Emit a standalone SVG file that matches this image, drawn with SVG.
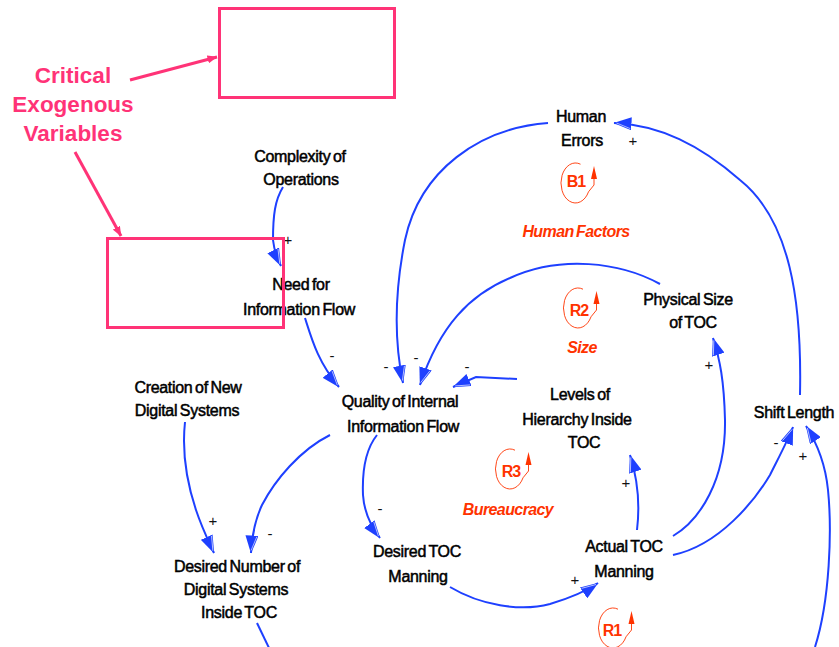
<svg xmlns="http://www.w3.org/2000/svg" width="839" height="647" viewBox="0 0 839 647">
  <style>
    .node { font-family: "Liberation Sans", Arial, sans-serif; font-size: 16px; fill: #000; stroke: #000; stroke-width: 0.5; text-anchor: middle; letter-spacing: -0.3px; word-spacing: -1.5px; }
    .pol { font-family: "Liberation Sans", Arial, sans-serif; font-size: 15px; fill: #111; text-anchor: middle; }
    .loopid { font-family: "Liberation Sans", Arial, sans-serif; font-size: 16px; font-weight: bold; fill: #ff3300; text-anchor: middle; letter-spacing: -1px; }
    .loopname { font-family: "Liberation Sans", Arial, sans-serif; font-size: 16px; font-weight: bold; font-style: italic; fill: #ff3300; text-anchor: middle; letter-spacing: -0.6px; word-spacing: -1.5px; }
    .link { fill: none; stroke: #1e40ff; stroke-width: 2; marker-end: url(#ah); }
    .plain { fill: none; stroke: #1e40ff; stroke-width: 2; }
    .note { font-family: "Liberation Sans", Arial, sans-serif; font-size: 22.5px; font-weight: bold; fill: #ff3377; text-anchor: middle; }
    .frame { fill: none; stroke: #ff3377; stroke-width: 3; }
    .pointer { fill: none; stroke: #ff3377; stroke-width: 3; marker-end: url(#pk); }
  </style>
  <defs>
    <marker id="ah" viewBox="0 0 18 13" refX="17.5" refY="6.5" markerWidth="18" markerHeight="13" markerUnits="userSpaceOnUse" orient="auto">
      <path d="M0,0 L18,6.5 L0,13 z" fill="#1e40ff"/>
      <path d="M1,1.6 L15,6.6" stroke="#c8d0ff" stroke-width="0.8"/>
    </marker>
    <marker id="pk" viewBox="0 0 10 8" refX="9.5" refY="4" markerWidth="10" markerHeight="8" markerUnits="userSpaceOnUse" orient="auto">
      <path d="M0,0 L10,4 L0,8 z" fill="#ff3377"/>
    </marker>
    <!-- loop-type marker: open circle with an upward arrow on its right -->
    <g id="loopMark">
      <path d="M5,-18.8 A14.5,20 0 1 0 13,8.8 L18.5,2 L18.5,-6" fill="none" stroke="#ff3300" stroke-width="0.9"/>
      <path d="M18.5,-17 L15.5,-4 L21.5,-4 z" fill="#ff3300"/>
    </g>
  </defs>

  <!-- causal links -->
  <g id="connectors">
    <path class="link" d="M283,187 C275,200 273,215 273,240 C274,250 277,258 281,266"/>
    <path class="link" d="M305,318 C312,340 318,362 339,387"/>
    <path class="link" d="M548,123 C480,128 420,170 405,240 C395,290 394,340 403,383"/>
    <path class="link" d="M660,284 C620,262 560,255 510,278 C470,295 440,325 420,385"/>
    <path class="link" d="M517,379 L476,377 L453,387"/>
    <path class="link" d="M800,395 C802,300 790,220 740,180 C700,145 660,125 614,123"/>
    <path class="link" d="M673,536 C700,520 726,480 725,420 C724,380 720,360 713,338"/>
    <path class="link" d="M637,530 C640,505 638,480 630,455"/>
    <path class="link" d="M673,555 C720,545 755,500 770,475 C780,455 788,440 793,427"/>
    <path class="link" d="M815,647 C830,600 832,530 828,490 C825,460 815,440 806,426"/>
    <path class="link" d="M330,435 C300,450 275,480 262,505 C255,520 252,535 251,553"/>
    <path class="link" d="M185,422 C182,450 186,480 196,510 C202,528 208,540 214,553"/>
    <path class="link" d="M377,435 C365,450 362,470 363,495 C364,510 370,525 380,538"/>
    <path class="link" d="M450,587 C480,605 520,612 550,604 C570,598 585,592 598,583"/>
    <path class="plain" d="M257,623 L270,650"/>
  </g>

  <!-- link polarities -->
  <g id="polarities">
    <text class="pol" x="288" y="245" fill="#555">+</text>
    <text class="pol" x="332" y="361">-</text>
    <text class="pol" x="386" y="372">-</text>
    <text class="pol" x="416" y="363">-</text>
    <text class="pol" x="467" y="372">-</text>
    <text class="pol" x="633" y="146">+</text>
    <text class="pol" x="709" y="370">+</text>
    <text class="pol" x="626" y="488">+</text>
    <text class="pol" x="776" y="448">-</text>
    <text class="pol" x="803" y="461">+</text>
    <text class="pol" x="270" y="539">-</text>
    <text class="pol" x="213" y="526">+</text>
    <text class="pol" x="380" y="514">-</text>
    <text class="pol" x="575" y="585">+</text>
  </g>

  <!-- variables -->
  <g id="human-errors"><text class="node"><tspan x="581" y="122">Human</tspan><tspan x="582" y="146">Errors</tspan></text></g>
  <g id="complexity-of-operations"><text class="node"><tspan x="300" y="162">Complexity of</tspan><tspan x="301" y="185">Operations</tspan></text></g>
  <g id="need-for-information-flow"><text class="node"><tspan x="301" y="290">Need for</tspan><tspan x="299" y="315">Information Flow</tspan></text></g>
  <g id="physical-size-of-toc"><text class="node"><tspan x="688" y="305">Physical Size</tspan><tspan x="693" y="328">of TOC</tspan></text></g>
  <g id="creation-of-new-digital-systems"><text class="node"><tspan x="188" y="393">Creation of New</tspan><tspan x="187" y="416">Digital Systems</tspan></text></g>
  <g id="quality-of-internal-information-flow"><text class="node"><tspan x="400" y="407">Quality of Internal</tspan><tspan x="403" y="432">Information Flow</tspan></text></g>
  <g id="levels-of-hierarchy-inside-toc"><text class="node"><tspan x="580" y="400">Levels of</tspan><tspan x="577" y="425">Hierarchy Inside</tspan><tspan x="584" y="448">TOC</tspan></text></g>
  <g id="shift-length"><text class="node" x="794" y="418">Shift Length</text></g>
  <g id="desired-toc-manning"><text class="node"><tspan x="417" y="557">Desired TOC</tspan><tspan x="418" y="582">Manning</tspan></text></g>
  <g id="actual-toc-manning"><text class="node"><tspan x="624" y="552">Actual TOC</tspan><tspan x="624" y="577">Manning</tspan></text></g>
  <g id="desired-number-of-digital-systems"><text class="node"><tspan x="237" y="572">Desired Number of</tspan><tspan x="236" y="595">Digital Systems</tspan><tspan x="239" y="618">Inside TOC</tspan></text></g>

  <!-- feedback loops -->
  <g id="loop-b1"><use href="#loopMark" x="575.5" y="183"/><text class="loopid" x="576" y="187">B1</text><text class="loopname" x="576" y="237">Human Factors</text></g>
  <g id="loop-r2"><use href="#loopMark" x="578" y="308"/><text class="loopid" x="579" y="316">R2</text><text class="loopname" x="582" y="353">Size</text></g>
  <g id="loop-r3"><use href="#loopMark" x="510" y="469"/><text class="loopid" x="511" y="477">R3</text><text class="loopname" x="508" y="515">Bureaucracy</text></g>
  <g id="loop-r1"><use href="#loopMark" x="613" y="628"/><text class="loopid" x="612" y="636">R1</text></g>

  <!-- exogenous-variable callout -->
  <g id="callout">
    <text class="note"><tspan x="73" y="83">Critical</tspan><tspan x="73" y="112">Exogenous</tspan><tspan x="73" y="141">Variables</tspan></text>
    <path class="pointer" d="M130,80 L217,57"/>
    <path class="pointer" d="M75,152 L121,236"/>
    <rect class="frame" x="219.5" y="8.5" width="175" height="89"/>
    <rect class="frame" x="107.5" y="238.5" width="176" height="89"/>
  </g>
</svg>
